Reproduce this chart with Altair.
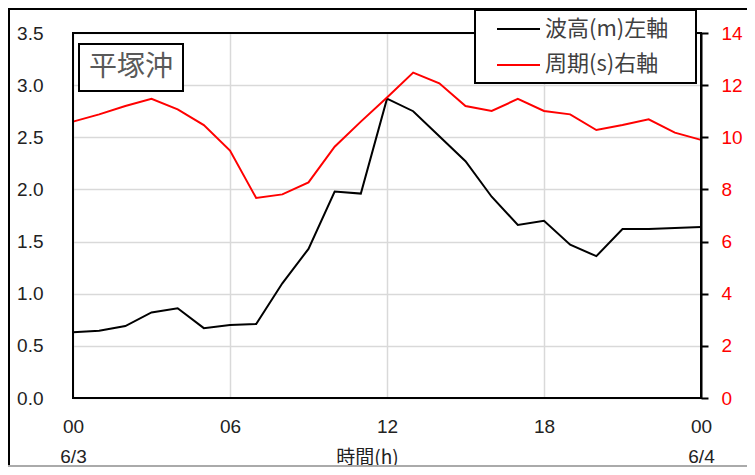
import altair as alt
import pandas as pd

# ---- data ----
hours = list(range(25))
wave_height = [0.63, 0.645, 0.69, 0.82, 0.86, 0.67, 0.70, 0.71, 1.10, 1.43,
               1.98, 1.96, 2.87, 2.75, 2.51, 2.27, 1.93, 1.66, 1.70, 1.47,
               1.36, 1.62, 1.62, 1.63, 1.64]
wave_period = [10.6, 10.88, 11.2, 11.48, 11.07, 10.47, 9.49, 7.67, 7.81, 8.27,
               9.64, 10.6, 11.53, 12.48, 12.07, 11.2, 11.01, 11.47, 11.01, 10.88,
               10.28, 10.47, 10.69, 10.18, 9.90]
x_ticks = [0, 6, 12, 18, 24]
left_ticks = [0.0, 0.5, 1.0, 1.5, 2.0, 2.5, 3.0, 3.5]
right_ticks = [0, 2, 4, 6, 8, 10, 12, 14]
legend_labels = ["波高(m)左軸", "周期(s)右軸"]
station_name = "平塚沖"
x_title = "時間(h)"

W, H = 628, 365
NUM_FONT = "Liberation Sans"
JP_FONT = "Noto Sans CJK JP"
GRID = "#d9d9d9"

df = pd.DataFrame({"hour": hours, "wave": wave_height, "period": wave_period})
one = pd.DataFrame({"d": [0]})

x_enc = alt.X(
    "hour:Q",
    scale=alt.Scale(domain=[0, 24], nice=False),
    axis=alt.Axis(
        values=x_ticks,
        labelExpr="datum.value==0 ? ['00','6/3'] : datum.value==24 ? ['00','6/4'] : (datum.value<10 ? '0'+datum.value : ''+datum.value)",
        grid=True, gridColor=GRID, gridWidth=1.5,
        ticks=False, domain=False,
        labelFlush=False, labelOverlap=False,
        labelFont=NUM_FONT, labelFontSize=19, labelColor="#222",
        labelPadding=19, labelLineHeight=30,
        title=x_title, titleFont=JP_FONT, titleFontSize=19, titleFontWeight="normal",
        titleColor="#222", titleX=294, titleY=59, titleBaseline="middle",
    ),
)

wave_line = alt.Chart(df).mark_line(color="black", strokeWidth=2).encode(
    x=x_enc,
    y=alt.Y(
        "wave:Q",
        scale=alt.Scale(domain=[0, 3.5], nice=False),
        axis=alt.Axis(
            values=left_ticks, format=".1f",
            grid=True, gridColor=GRID, gridWidth=1.5,
            ticks=False, domain=False,
            labelFont=NUM_FONT, labelFontSize=19, labelColor="#222",
            labelPadding=30, title=None,
        ),
    ),
)

period_line = alt.Chart(df).mark_line(color="#ff0000", strokeWidth=2).encode(
    x=x_enc,
    y=alt.Y(
        "period:Q",
        scale=alt.Scale(domain=[0, 14], nice=False),
        axis=alt.Axis(
            orient="right", values=right_ticks, grid=False,
            tickSize=7, tickColor="black", tickWidth=2,
            domain=True, domainColor="black", domainWidth=2,
            labelFont=NUM_FONT, labelFontSize=19, labelColor="#ff0000",
            labelPadding=13, title=None,
        ),
    ),
)

lines = alt.layer(wave_line, period_line).resolve_scale(y="independent")

frame = alt.Chart(one).mark_rect(fill=None, stroke="black", strokeWidth=2).encode(
    x=alt.value(0), x2=alt.value(W), y=alt.value(0), y2=alt.value(H)
)

outer_left = alt.Chart(one).mark_rule(color="black", strokeWidth=2).encode(
    x=alt.value(-64), y=alt.value(-24), y2=alt.value(433)
)
outer_top = alt.Chart(one).mark_rule(color="black", strokeWidth=2).encode(
    x=alt.value(-65), x2=alt.value(680), y=alt.value(-24)
)
outer_bottom = alt.Chart(one).mark_rule(color="#aaaaaa", strokeWidth=2).encode(
    x=alt.value(-65), x2=alt.value(680), y=alt.value(433)
)

legend_box = alt.Chart(one).mark_rect(fill="white", stroke="black", strokeWidth=2).encode(
    x=alt.value(402), x2=alt.value(623), y=alt.value(-23), y2=alt.value(50)
)
leg_line1 = alt.Chart(one).mark_rule(color="black", strokeWidth=2).encode(
    x=alt.value(424), x2=alt.value(467), y=alt.value(-4)
)
leg_line2 = alt.Chart(one).mark_rule(color="#ff0000", strokeWidth=2).encode(
    x=alt.value(424), x2=alt.value(467), y=alt.value(32)
)
leg_text1 = alt.Chart(one).mark_text(
    align="left", baseline="middle", font=JP_FONT, fontSize=22, color="#404040",
    text=legend_labels[0]
).encode(x=alt.value(472), y=alt.value(-4))
leg_text2 = alt.Chart(one).mark_text(
    align="left", baseline="middle", font=JP_FONT, fontSize=22, color="#404040",
    text=legend_labels[1]
).encode(x=alt.value(472), y=alt.value(31))

title_box = alt.Chart(one).mark_rect(fill="white", stroke="black", strokeWidth=2).encode(
    x=alt.value(6), x2=alt.value(110), y=alt.value(11), y2=alt.value(58)
)
title_text = alt.Chart(one).mark_text(
    align="center", baseline="middle", font=JP_FONT, fontSize=28, color="#595959",
    text=station_name
).encode(x=alt.value(58), y=alt.value(35))

chart = alt.layer(
    lines, frame, outer_left, outer_top, outer_bottom,
    legend_box, leg_line1, leg_line2, leg_text1, leg_text2,
    title_box, title_text,
).properties(
    width=W, height=H,
    autosize=alt.AutoSizeParams(type="none"),
    padding={"left": 65, "top": 25, "right": 46, "bottom": 69},
).configure_view(stroke=None)

chart.save("out.html", embed_options={"renderer": "svg", "actions": False})
